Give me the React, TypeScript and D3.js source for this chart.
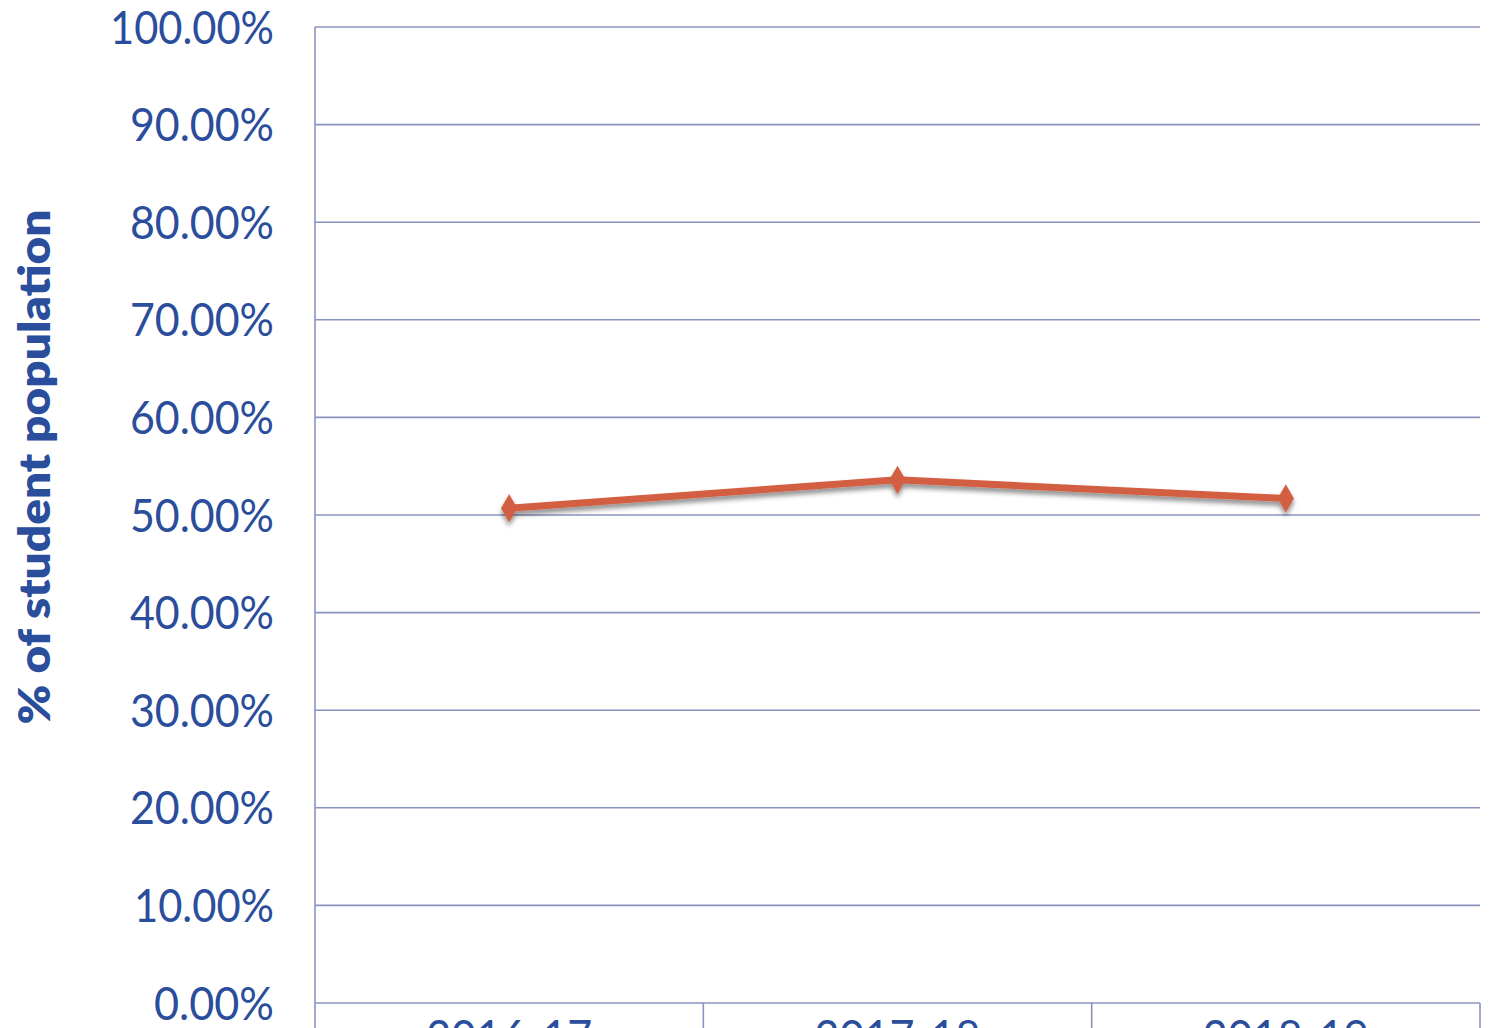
import React from 'react';
import { scaleLinear, scaleBand, line, symbol, symbolDiamond, range } from 'd3';

const years = ['2016-17', '2017-18', '2018-19'];
const shares = [0.507, 0.536, 0.517];
const yTicks = [0, 0.1, 0.2, 0.3, 0.4, 0.5, 0.6, 0.7, 0.8, 0.9, 1.0];

const W = 1491;
const H = 1028;
const margin = { top: 27, right: 11, bottom: 25, left: 315 };
const innerW = W - margin.left - margin.right;
const innerH = H - margin.top - margin.bottom;

const blue = '#2a4d9c';
const grid = '#8a93bf';
const red = '#d35f42';

const pct = (v: number) => `${(v * 100).toFixed(2)}%`;

export default function App() {
  const y = scaleLinear().domain([0, 1]).range([innerH, 0]);
  const xBand = scaleBand().domain(years).range([0, innerW]);
  const x = (d: string) => (xBand(d) as number) + xBand.bandwidth() / 2;

  const path = line<number>()
    .x((_, i) => x(years[i]))
    .y(d => y(d))(shares);

  const diamond = symbol().type(symbolDiamond).size(230)();

  return (
    <svg width={W} height={H} style={{ position: 'absolute', left: 0, top: 0, background: '#fff' }}>
      <defs>
        <filter id="shadow" x="-100%" y="-100%" width="300%" height="300%">
          <feGaussianBlur in="SourceAlpha" stdDeviation="2.5" />
          <feOffset dx="0" dy="4" result="b" />
          <feComponentTransfer><feFuncA type="linear" slope="0.45" /></feComponentTransfer>
          <feMerge><feMergeNode /><feMergeNode in="SourceGraphic" /></feMerge>
        </filter>
      </defs>

      {/* y axis title */}
      <text
        transform={`translate(50, 467) rotate(-90)`}
        textAnchor="middle"
        fontFamily="Lato, 'Open Sans', sans-serif"
        fontWeight={800}
        fontSize={43}
        fill={blue}
        textLength={515}
        lengthAdjust="spacingAndGlyphs"
      >% of student population</text>

      <g transform={`translate(${margin.left}, ${margin.top})`}>
        {yTicks.map(t => (
          <g key={t} transform={`translate(0, ${y(t)})`}>
            <line x1={0} x2={innerW} stroke={grid} strokeWidth={1.6} />
            <text
              x={-41}
              dy="0.36em"
              textAnchor="end"
              fontFamily="Lato, 'Open Sans', sans-serif"
              fontWeight={400}
              fontSize={46}
              fill={blue}
              textLength={pct(t).length * 24 - (pct(t).startsWith('1') ? 4 : 0)}
              lengthAdjust="spacingAndGlyphs"
            >{pct(t)}</text>
          </g>
        ))}
        <line x1={0} x2={0} y1={0} y2={innerH + margin.bottom} stroke={grid} strokeWidth={1.6} />
        {range(1, years.length + 1).map(i => (
          <line key={i} x1={xBand.step() * i} x2={xBand.step() * i} y1={innerH} y2={innerH + margin.bottom} stroke={grid} strokeWidth={1.6} />
        ))}
        {years.map(d => (
          <text
            key={d}
            x={x(d)}
            y={innerH + 50}
            textAnchor="middle"
            fontFamily="Lato, 'Open Sans', sans-serif"
            fontWeight={400}
            fontSize={46}
            fill={blue}
            textLength={166}
            lengthAdjust="spacingAndGlyphs"
          >{d}</text>
        ))}

        <g filter="url(#shadow)">
          <path d={path || ''} fill="none" stroke={red} strokeWidth={7} strokeLinejoin="round" />
          {shares.map((v, i) => (
            <path key={years[i]} d={diamond || ''} transform={`translate(${x(years[i])}, ${y(v)})`} fill={red} />
          ))}
        </g>
      </g>
    </svg>
  );
}
